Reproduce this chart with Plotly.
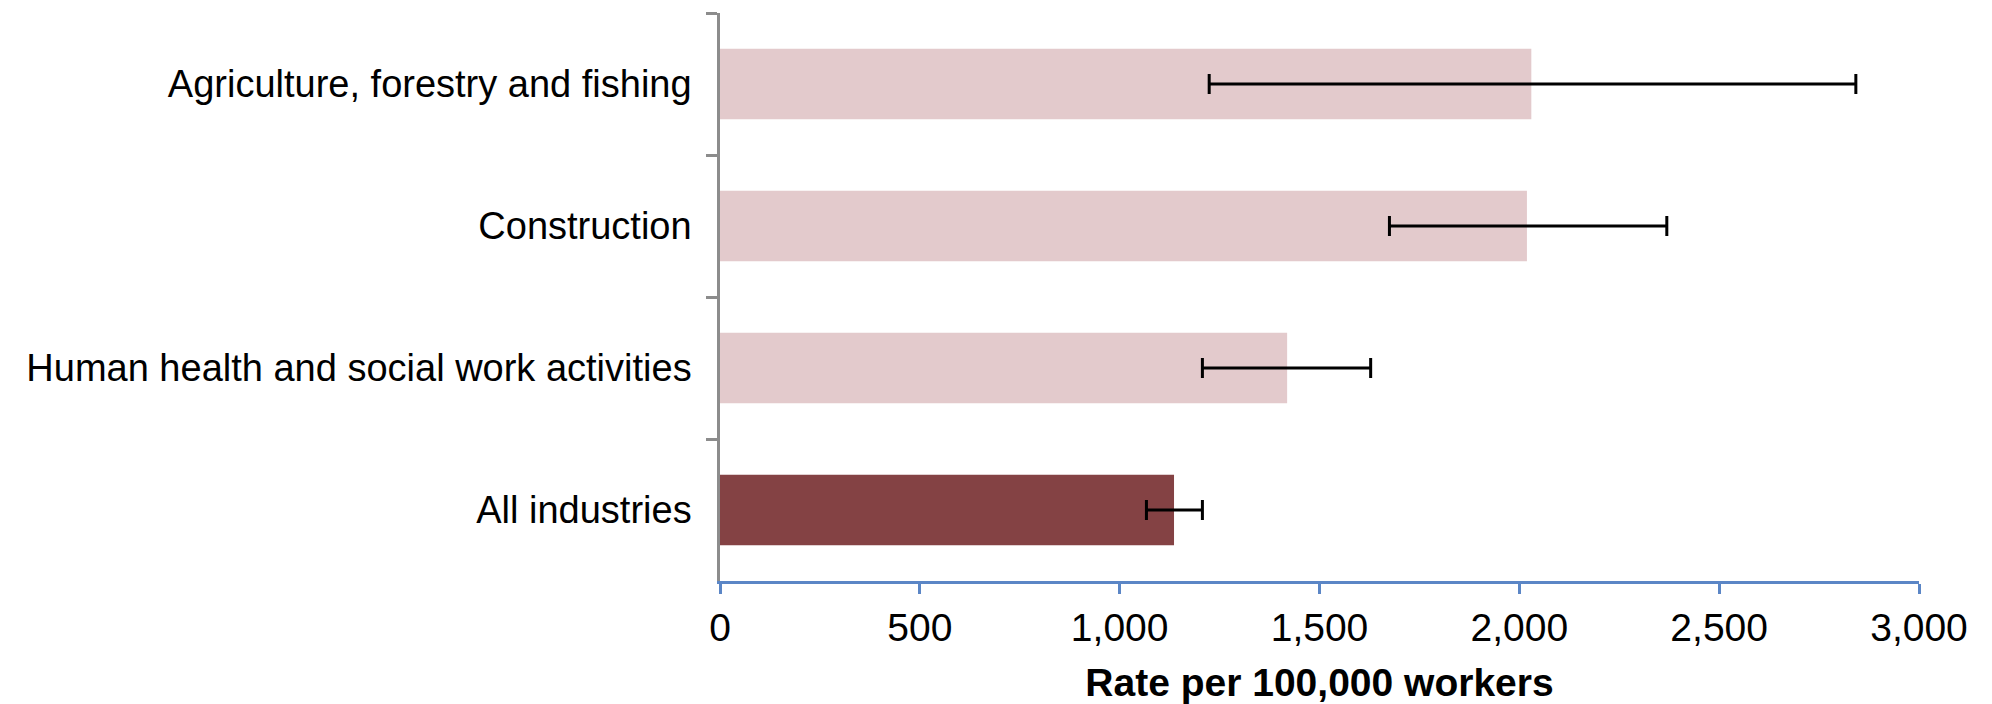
import plotly.graph_objects as go

categories = [
    "Agriculture, forestry and fishing",
    "Construction",
    "Human health and social work activities",
    "All industries",
]
rates = [2030, 2019, 1419, 1136]
ci_lower = [1224, 1675, 1207, 1067]
ci_upper = [2842, 2369, 1628, 1207]
bar_colors = ["#E3CACC", "#E3CACC", "#E3CACC", "#844244"]
x_ticks = [0, 500, 1000, 1500, 2000, 2500, 3000]

err_plus = [u - r for u, r in zip(ci_upper, rates)]
err_minus = [r - l for r, l in zip(rates, ci_lower)]

fig = go.Figure()
fig.add_trace(go.Bar(
    y=categories,
    x=rates,
    orientation="h",
    marker=dict(color=bar_colors, line=dict(width=0)),
    error_x=dict(
        type="data",
        symmetric=False,
        array=err_plus,
        arrayminus=err_minus,
        color="#000000",
        thickness=3,
        width=10,
    ),
    showlegend=False,
))

font_family = "Liberation Sans, Arial, sans-serif"

fig.update_layout(
    width=1984,
    height=696,
    margin=dict(l=712, r=73, t=5, b=123),
    paper_bgcolor="white",
    plot_bgcolor="white",
    bargap=0.505,
    font=dict(family=font_family, size=39, color="#000000"),
    xaxis=dict(
        range=[0, 3000],
        tickvals=x_ticks,
        tickformat=",",
        showgrid=False,
        zeroline=False,
        showline=True,
        linecolor="#5B86C6",
        linewidth=2.5,
        ticks="outside",
        ticklen=10,
        tickwidth=2.5,
        tickcolor="#5B86C6",
        tickfont=dict(family=font_family, size=39, color="#000000"),
        automargin=False,
        title=dict(
            text="<b>Rate per 100,000 workers</b>",
            font=dict(family=font_family, size=39, color="#000000"),
            standoff=22,
        ),
    ),
    yaxis=dict(
        categoryorder="array",
        categoryarray=categories,
        autorange="reversed",
        showgrid=False,
        zeroline=False,
        showline=True,
        linecolor="#8C8C8C",
        linewidth=2.5,
        ticks="outside",
        tickson="boundaries",
        ticklen=11,
        tickwidth=2.5,
        tickcolor="#8C8C8C",
        tickfont=dict(family=font_family, size=38, color="#000000"),
        ticklabelstandoff=18,
        automargin=False,
    ),
)

fig.write_html("out.html")
